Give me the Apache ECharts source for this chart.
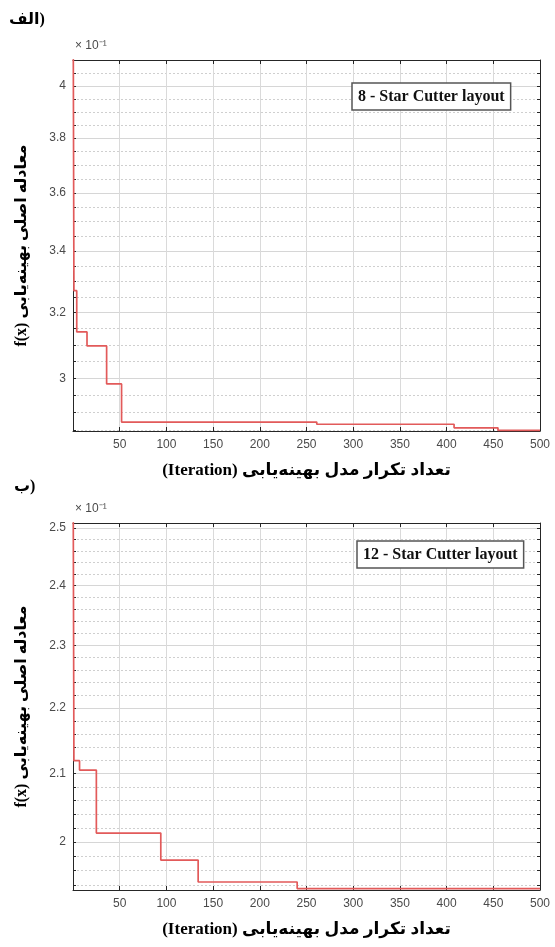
<!DOCTYPE html>
<html><head><meta charset="utf-8">
<script src="https://cdn.jsdelivr.net/npm/echarts@6/dist/echarts.min.js"></script>
<style>html,body{margin:0;padding:0;background:#fff}#c{width:555px;height:947px}</style>
</head><body><div id="c"></div>
<script>
// ---- texts ----
const panelLabels = ['الف)', 'ب)'];
const xTitle = '(Iteration) تعداد تکرار مدل بهینه‌یابی';
const yTitle = 'f(x) معادله اصلی بهینه‌یابی';
const exponentLabel = '× 10⁻¹';
const seriesNames = ['8 - Star Cutter layout', '12 - Star Cutter layout'];

// ---- x axis ----
const xMin = 0, xMax = 500, xInterval = 50;

// ---- panel 1 (values in units of 10^-1) ----
const iter1 = [0, 1, 4, 15, 36, 52, 261, 408, 455, 500];
const val1  = [4.6, 3.27, 3.14, 3.097, 2.983, 2.873, 2.867, 2.857, 2.850, 2.850];
const yRange1 = [2.848, 4.104];
const yMajor1 = [3, 3.2, 3.4, 3.6, 3.8, 4];
const yMinor1 = [2.85, 2.9, 2.95, 3, 3.05, 3.1, 3.15, 3.2, 3.25, 3.3, 3.35, 3.4, 3.45, 3.5, 3.55, 3.6, 3.65, 3.7, 3.75, 3.8, 3.85, 3.9, 3.95, 4, 4.05];

// ---- panel 2 ----
const iter2 = [0, 1, 7, 25, 94, 134, 240, 500];
const val2  = [2.7, 2.119, 2.105, 2.0128, 1.9746, 1.944, 1.935, 1.935];
const yRange2 = [1.933, 2.509];
const yMajor2 = [2, 2.1, 2.2, 2.3, 2.4, 2.5];
const yMinor2 = [1.94, 1.96, 1.98, 2, 2.02, 2.04, 2.06, 2.08, 2.1, 2.12, 2.14, 2.16, 2.18, 2.2, 2.22, 2.24, 2.26, 2.28, 2.3, 2.32, 2.34, 2.36, 2.38, 2.4, 2.42, 2.44, 2.46, 2.48, 2.5];

const panels = [
  {iter: iter1, val: val1, range: yRange1, major: yMajor1, minor: yMinor1, grid: {left: 73, top: 60, width: 467, height: 371}, legendPos: {left: 352, top: 83}},
  {iter: iter2, val: val2, range: yRange2, major: yMajor2, minor: yMinor2, grid: {left: 73, top: 523, width: 467, height: 367}, legendPos: {left: 357, top: 541}}
];

const axisDark = '#262626';
const labelGray = '#4a4a4a';
const redLine = '#e25a5a';
const persianFont = '"Liberation Serif", "DejaVu Sans", serif';

const grids = [], xAxes = [], yAxes = [], series = [], legends = [], graphics = [];
panels.forEach((p, i) => {
  grids.push(Object.assign({containLabel: false}, p.grid));
  // bottom x axis
  xAxes.push({
    type: 'value', gridIndex: i, position: 'bottom', min: xMin, max: xMax, interval: xInterval,
    name: xTitle, nameLocation: 'middle', nameGap: 31,
    nameTextStyle: {fontFamily: persianFont, fontWeight: 'bold', fontSize: 17, color: '#000'},
    axisLine: {show: true, onZero: false, lineStyle: {color: axisDark, width: 1}},
    axisTick: {show: true, inside: true, length: 4, lineStyle: {color: axisDark}},
    axisLabel: {margin: 8, color: labelGray, fontSize: 12, fontFamily: 'Liberation Sans, Arial', formatter: v => v === 0 ? '' : String(v)},
    splitLine: {show: true, lineStyle: {color: '#dadada', width: 1}}
  });
  // top x axis (box)
  xAxes.push({
    type: 'value', gridIndex: i, position: 'top', min: xMin, max: xMax, interval: xInterval,
    axisLine: {show: true, onZero: false, lineStyle: {color: axisDark, width: 1}},
    axisTick: {show: true, inside: true, length: 4, lineStyle: {color: axisDark}},
    axisLabel: {show: false}, splitLine: {show: false}
  });
  // left y axis: labels at majors, ticks at all
  yAxes.push({
    type: 'log', logBase: 10, gridIndex: i, position: 'left', min: p.range[0], max: p.range[1],
    name: yTitle, nameLocation: 'middle', nameGap: 43, nameRotate: 90,
    nameTextStyle: {fontFamily: persianFont, fontWeight: 'bold', fontSize: 16, color: '#000'},
    axisLine: {show: true, onZero: false, lineStyle: {color: axisDark, width: 1}},
    axisTick: {show: true, inside: true, length: 3, customValues: p.minor, lineStyle: {color: axisDark}},
    axisLabel: {customValues: p.major, margin: 7, color: labelGray, fontSize: 12, fontFamily: 'Liberation Sans, Arial', formatter: v => String(+(+v).toFixed(2))},
    splitLine: {show: false}
  });
  // right y axis: minor dotted lines + ticks
  yAxes.push({
    type: 'log', logBase: 10, gridIndex: i, position: 'right', min: p.range[0], max: p.range[1],
    axisLine: {show: true, onZero: false, lineStyle: {color: axisDark, width: 1}},
    axisTick: {show: true, inside: true, length: 3, customValues: p.minor, lineStyle: {color: axisDark}},
    axisLabel: {show: false},
    splitLine: {show: true, lineStyle: {color: '#cfcfcf', width: 1, type: [2, 2]}}
  });
  // hidden axis for solid major grid lines
  yAxes.push({
    type: 'log', logBase: 10, gridIndex: i, position: 'left', min: p.range[0], max: p.range[1],
    axisLine: {show: false}, axisLabel: {show: false},
    axisTick: {show: false, customValues: p.major},
    splitLine: {show: true, lineStyle: {color: '#d6d6d6', width: 1}}
  });
  series.push({
    name: seriesNames[i], type: 'line', step: 'end', xAxisIndex: i * 2, yAxisIndex: i * 3,
    data: p.iter.map((x, k) => [x, p.val[k]]),
    showSymbol: false, symbol: 'none', clip: true,
    lineStyle: {color: redLine, width: 1.7}, itemStyle: {color: redLine}, z: 5
  });
  legends.push(Object.assign({
    data: [seriesNames[i]], orient: 'horizontal', icon: 'rect', itemWidth: 0, itemHeight: 0, itemGap: 0,
    borderColor: '#555', borderWidth: 1.5, padding: [6, 6, 5, 1], backgroundColor: '#fff',
    textStyle: {fontFamily: 'Liberation Serif', fontWeight: 'bold', fontSize: 16, color: '#111'},
    selectedMode: false
  }, p.legendPos));
  graphics.push({
    type: 'text', left: 75, top: p.grid.top - 20,
    style: {text: exponentLabel, fill: labelGray, font: '12px "Liberation Sans", Arial'}
  });
});
graphics.push({type: 'text', left: 9, top: 12, style: {text: panelLabels[0], fill: '#000', font: 'bold 16px ' + persianFont}});
graphics.push({type: 'text', left: 14, top: 479, style: {text: panelLabels[1], fill: '#000', font: 'bold 16px ' + persianFont}});

const chart = echarts.init(document.getElementById('c'), null, {renderer: 'canvas'});
chart.setOption({
  animation: false,
  backgroundColor: '#fff',
  grid: grids, xAxis: xAxes, yAxis: yAxes, series: series, legend: legends, graphic: graphics
});
</script>
</body></html>
